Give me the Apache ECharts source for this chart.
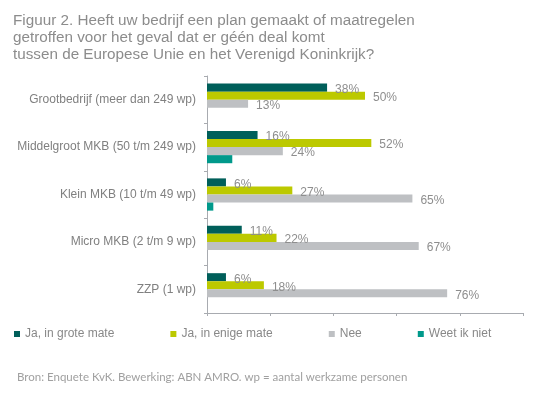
<!DOCTYPE html>
<html>
<head>
<meta charset="utf-8">
<script src="https://cdn.jsdelivr.net/npm/echarts@6/dist/echarts.min.js"></script>
<style>
  html, body { margin: 0; padding: 0; background: #fff; }
  #vis { width: 547px; height: 399px; }
</style>
</head>
<body>
<div id="vis"></div>
<script>
const categories = [
  'Grootbedrijf (meer dan 249 wp)',
  'Middelgroot MKB (50 t/m 249 wp)',
  'Klein MKB (10 t/m 49 wp)',
  'Micro MKB (2 t/m 9 wp)',
  'ZZP (1 wp)'
]
const seriesNames = ['Ja, in grote mate', 'Ja, in enige mate', 'Nee', 'Weet ik niet']
const grooteMate = [38, 16, 6, 11, 6]
const enigeMate = [50, 52, 27, 22, 18]
const nee = [13, 24, 65, 67, 76]
const weetNiet = [0, 8, 2, 0, 0]
const xTicks = [0, 20, 40, 60, 80, 100]

const colors = ['#005f5a', '#bcc900', '#bec0c3', '#00998b']
const font = '"Liberation Sans", Arial, sans-serif'

const makeSeries = (name, data, idx, withLabel) => ({
  name,
  type: 'bar',
  data,
  barGap: 0,
  barCategoryGap: '32%',
  itemStyle: { color: colors[idx] },
  label: {
    show: withLabel,
    position: 'right',
    distance: 8,
    offset: [0, 2],
    formatter: '{c}%',
    color: '#8e8e8e',
    fontSize: 12,
    fontFamily: font
  }
})

const chart = echarts.init(document.getElementById('vis'), null, { renderer: 'canvas' })

chart.setOption({
  animation: false,
  title: [
    {
      text: 'Figuur 2. Heeft uw bedrijf een plan gemaakt of maatregelen\ngetroffen voor het geval dat er géén deal komt\ntussen de Europese Unie en het Verenigd Koninkrijk?',
      left: 8,
      top: 7,
      textStyle: { fontSize: 15.25, lineHeight: 17, fontWeight: 'normal', color: '#8c8c8c', fontFamily: font }
    },
    {
      text: 'Bron: Enquete KvK. Bewerking: ABN AMRO. wp = aantal werkzame personen',
      left: 12,
      top: 366,
      textStyle: { fontSize: 11.5, fontWeight: 'normal', color: '#a0a0a0', fontFamily: 'Lato, sans-serif' }
    }
  ],
  legend: {
    data: seriesNames,
    left: 9,
    top: 323,
    itemWidth: 6,
    itemHeight: 6,
    itemGap: 56,
    icon: 'rect',
    textStyle: { fontSize: 12, color: '#888888', fontFamily: font }
  },
  grid: { left: 207, right: 24, top: 76, bottom: 86 },
  xAxis: {
    type: 'value',
    min: xTicks[0],
    max: xTicks[xTicks.length - 1],
    interval: xTicks[1] - xTicks[0],
    axisLabel: { show: false },
    axisLine: { show: true, lineStyle: { color: '#a8abb0' } },
    axisTick: { show: true, length: 3, lineStyle: { color: '#a8abb0' } },
    splitLine: { show: false }
  },
  yAxis: {
    type: 'category',
    data: categories,
    inverse: true,
    axisLine: { show: true, lineStyle: { color: '#a8abb0' } },
    axisTick: { show: true, length: 3, lineStyle: { color: '#a8abb0' } },
    axisLabel: { margin: 11, fontSize: 12, color: '#808080', fontFamily: font }
  },
  series: [
    makeSeries(seriesNames[0], grooteMate, 0, true),
    makeSeries(seriesNames[1], enigeMate, 1, true),
    makeSeries(seriesNames[2], nee, 2, true),
    makeSeries(seriesNames[3], weetNiet, 3, false)
  ]
})
</script>
</body>
</html>
